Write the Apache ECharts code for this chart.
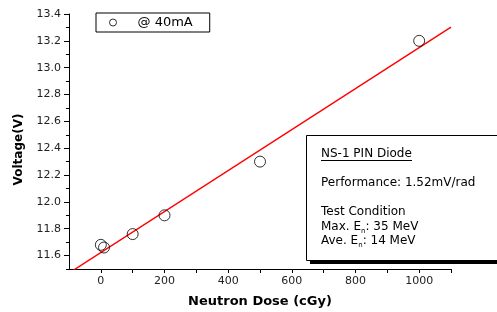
<!DOCTYPE html>
<html>
<head>
<meta charset="utf-8">
<script src="https://cdn.jsdelivr.net/npm/echarts@6/dist/echarts.min.js"></script>
<style>
	html, body { margin: 0; padding: 0; background: #fff; }
	#chart { width: 497px; height: 312px; }
</style>
</head>
<body>
<div id="chart"></div>
<script>
// measured points (dose in cGy, voltage in V)
const doses = [0, 10, 100, 200, 500, 1000];
const voltages = [11.68, 11.66, 11.76, 11.9, 12.3, 13.2];
const seriesName = '@ 40mA';

// axis ticks / labels
const xTicks = [0, 100, 200, 300, 400, 500, 600, 700, 800, 900, 1000, 1100];
const xLabels = [0, 200, 400, 600, 800, 1000];
const yMajor = [11.6, 11.8, 12.0, 12.2, 12.4, 12.6, 12.8, 13.0, 13.2, 13.4];
const yMinor = [11.5, 11.7, 11.9, 12.1, 12.3, 12.5, 12.7, 12.9, 13.1, 13.3];

// fitted line range
const fitRange = [-100, 1100];

// info box text
const boxTitle = 'NS-1 PIN Diode';
const boxLines = [
	'Performance: 1.52mV/rad',
	'',
	'Test Condition',
	'Max. E{sub|n}: 35 MeV',
	'Ave. E{sub|n}: 14 MeV',
];

// least squares fit of the points
function linearFit(xs, ys) {
	let n = xs.length;
	let mx = xs.reduce((a, b) => a + b, 0) / n;
	let my = ys.reduce((a, b) => a + b, 0) / n;
	let sxy = 0, sxx = 0;
	for (let i = 0; i < n; i++) {
		sxy += (xs[i] - mx) * (ys[i] - my);
		sxx += (xs[i] - mx) * (xs[i] - mx);
	}
	let k = sxy / sxx;
	return { k: k, b: my - k * mx };
}

let fit = linearFit(doses, voltages);
let fitData = fitRange.map(x => [x, fit.b + fit.k * x]);
let points = doses.map((d, i) => [d, voltages[i]]);

let font = '"DejaVu Sans", Verdana, sans-serif';
let chart = echarts.init(document.getElementById('chart'), null, { renderer: 'canvas' });

let yBase = {
	type: 'value',
	min: 11.5,
	max: 13.4,
	position: 'left',
	splitLine: { show: false },
};

let option = {
	animation: false,
	backgroundColor: '#fff',
	textStyle: { fontFamily: font },
	grid: { left: 69, right: 46, top: 14, bottom: 43, outerBoundsMode: 'none', containLabel: false },
	legend: {
		data: [seriesName],
		left: 96,
		top: 13,
		padding: [3, 17, 3, 13],
		itemWidth: 7,
		itemHeight: 7,
		icon: 'circle',
		itemStyle: { color: '#fff', borderColor: '#000', borderWidth: 1 },
		borderColor: '#000',
		borderWidth: 1,
		borderRadius: 0,
		textStyle: { fontSize: 13, color: '#000', padding: [0, 0, 0, 16], fontFamily: font },
	},
	xAxis: {
		type: 'value',
		min: -100,
		max: 1100,
		name: 'Neutron Dose (cGy)',
		nameLocation: 'middle',
		nameGap: 26,
		nameTextStyle: { fontSize: 13, fontWeight: 'bold', color: '#000', fontFamily: font },
		axisLine: { show: true, onZero: false, lineStyle: { color: '#000', width: 1 } },
		axisTick: { show: true, length: 4, customValues: xTicks, lineStyle: { color: '#000' } },
		axisLabel: {
			customValues: xLabels, fontSize: 11, color: '#222', margin: 7,
			formatter: v => String(v),
		},
		splitLine: { show: false },
	},
	yAxis: [
		Object.assign({}, yBase, {
			name: 'Voltage(V)',
			nameLocation: 'middle',
			nameGap: 44,
			nameRotate: 90,
			nameTextStyle: {
				fontSize: 12, fontWeight: 'bold', color: '#000', fontFamily: font,
				padding: [0, 16, 0, 0],
			},
			axisLine: { show: true, onZero: false, lineStyle: { color: '#000', width: 1 } },
			axisTick: { show: true, length: 5, customValues: yMajor, lineStyle: { color: '#000' } },
			axisLabel: {
				customValues: yMajor, fontSize: 11, color: '#222', margin: 8,
				formatter: v => v.toFixed(1),
			},
		}),
		Object.assign({}, yBase, {
			axisLine: { show: false, onZero: false },
			axisTick: { show: true, length: 3, customValues: yMinor, lineStyle: { color: '#000' } },
			axisLabel: { show: false },
		}),
	],
	graphic: [
		// shadow of the info box
		{
			type: 'rect',
			shape: { x: 310, y: 139, width: 200, height: 125 },
			style: { fill: '#000' },
			z: 100,
		},
		{
			type: 'rect',
			shape: { x: 306.5, y: 135.5, width: 200, height: 125 },
			style: { fill: '#fff', stroke: '#000', lineWidth: 1 },
			z: 101,
		},
		{
			type: 'text',
			x: 321,
			y: 148,
			style: { text: boxTitle, fontSize: 12, fill: '#000', fontFamily: font },
			z: 102,
		},
		{
			type: 'line',
			shape: { x1: 321, y1: 160.5, x2: 412, y2: 160.5 },
			style: { stroke: '#000', lineWidth: 1 },
			z: 102,
		},
		{
			type: 'text',
			x: 321,
			y: 176,
			style: {
				text: boxLines.join('\n'),
				fontSize: 12,
				lineHeight: 14.5,
				fill: '#000',
				fontFamily: font,
				rich: {
					sub: { fontSize: 7, fill: '#000', padding: [8, 0, 0, 0], fontFamily: font },
				},
			},
			z: 102,
		},
	],
	series: [
		{
			name: 'fit',
			type: 'line',
			data: fitData,
			symbol: 'none',
			clip: true,
			lineStyle: { color: '#ff0000', width: 1.4 },
			z: 2,
		},
		{
			name: seriesName,
			type: 'scatter',
			data: points,
			symbol: 'circle',
			symbolSize: 11,
			itemStyle: { color: 'rgba(0,0,0,0)', borderColor: '#000', borderWidth: 1 },
			z: 3,
		},
	],
};

chart.setOption(option);
</script>
</body>
</html>
